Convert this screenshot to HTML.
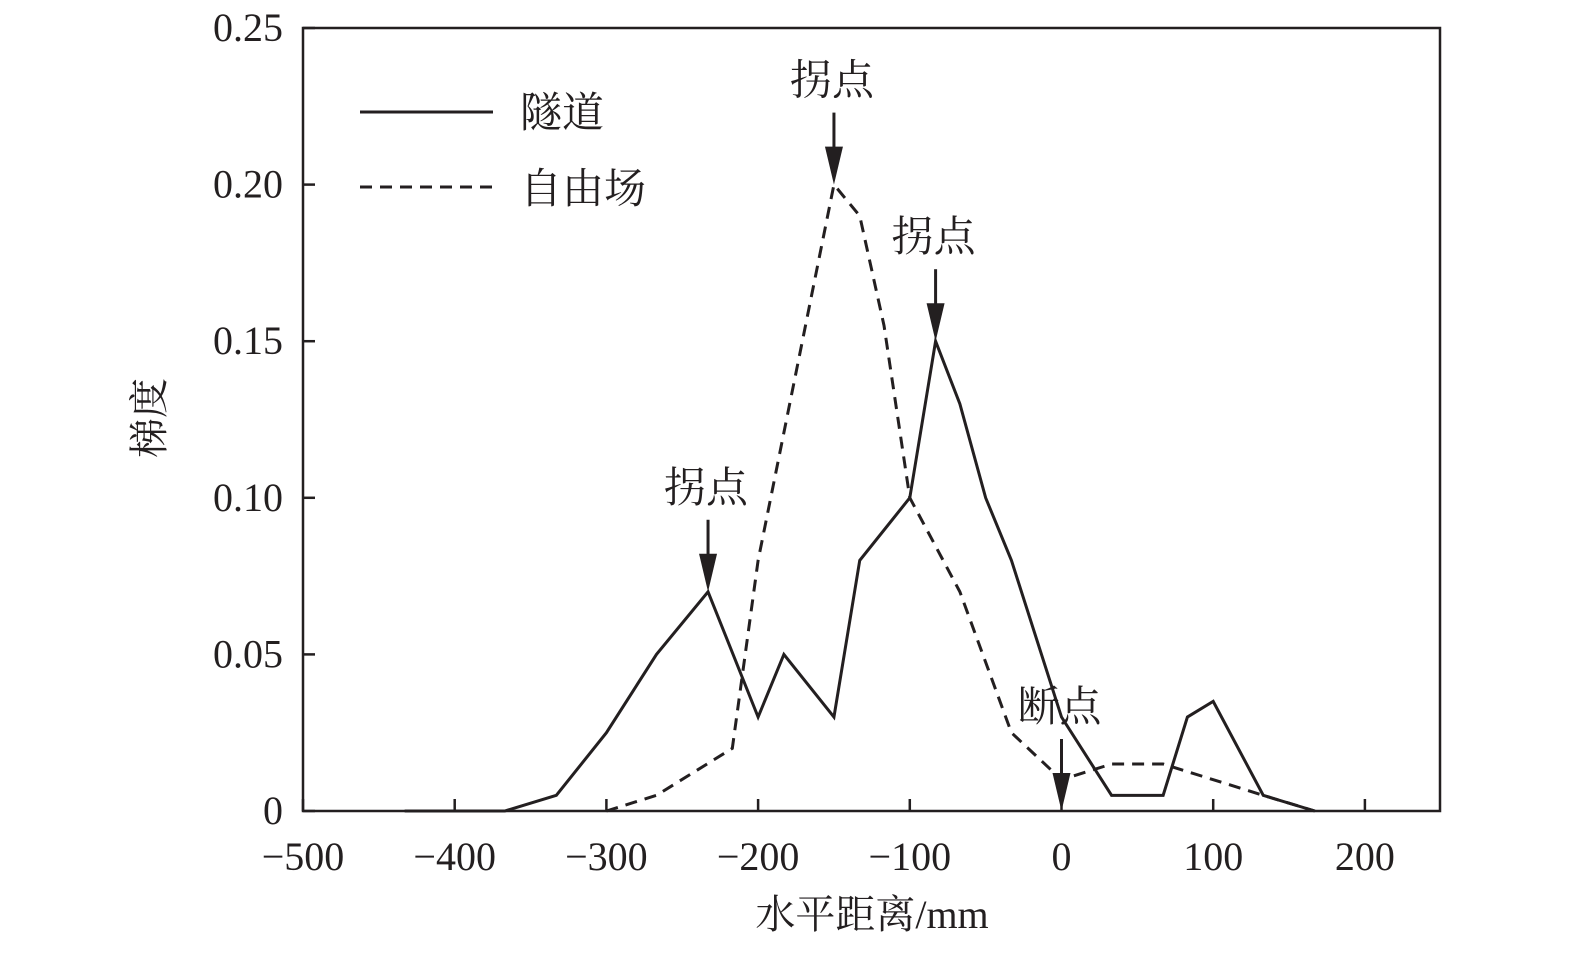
<!DOCTYPE html>
<html><head><meta charset="utf-8"><style>
body{margin:0;background:#fff}
svg text{font-family:"Liberation Serif","Noto Serif CJK SC",serif;fill:#231f20}
</style></head><body>
<svg id="chart" width="1575" height="950" xmlns="http://www.w3.org/2000/svg">
<g id="axes"></g><g id="series"></g><g id="notes"></g>
</svg>
<script>
const xTicks=[-500,-400,-300,-200,-100,0,100,200];
const yTicks=[0,0.05,0.10,0.15,0.20,0.25];
const yTickLabels=["0","0.05","0.10","0.15","0.20","0.25"];
const tunnelX=[-433,-367,-333,-300,-267,-233,-200,-183,-150,-133,-100,-83,-67,-50,-33,0,33,67,83,100,133,167];
const tunnelY=[0,0,0.005,0.025,0.05,0.07,0.03,0.05,0.03,0.08,0.1,0.15,0.13,0.1,0.08,0.03,0.005,0.005,0.03,0.035,0.005,0];
const freeX=[-300,-267,-217,-200,-150,-133,-117,-100,-67,-33,0,33,67,100,133,167];
const freeY=[0,0.005,0.02,0.08,0.2,0.19,0.155,0.1,0.07,0.025,0.01,0.015,0.015,0.01,0.005,0];
const notes=[{x:-150,y:0.2,t:"拐点"},{x:-83,y:0.15,t:"拐点"},{x:-233,y:0.07,t:"拐点"},{x:0,y:0,t:"断点"}];
const L=303,R=1440,T=28,B=811;
const sx=v=>303+(v+500)*151.7/100;
const sy=v=>B-(v/0.25)*(B-T);
const NS="http://www.w3.org/2000/svg";
function mk(tag,attrs,parent,txt){const e=document.createElementNS(NS,tag);for(const k in attrs)e.setAttribute(k,attrs[k]);if(txt!==undefined)e.textContent=txt;document.getElementById(parent).appendChild(e);return e;}
let e=mk("rect",{x:L,y:T,width:R-L,height:B-T,fill:"none",stroke:"#231f20","stroke-width":2.5},"axes");


xTicks.forEach(v=>{
 let t=mk("line",{x1:sx(v),x2:sx(v),y1:B,y2:B-12,stroke:"#231f20","stroke-width":2.5},"axes");
 
 
 let l=mk("text",{x:sx(v),y:870,"text-anchor":"middle","font-size":40},"axes",(v<0?"\u2212":"")+Math.abs(v));
 
 
});
yTicks.forEach((v,i)=>{
 let t=mk("line",{x1:L,x2:L+12,y1:sy(v),y2:sy(v),stroke:"#231f20","stroke-width":2.5},"axes");
 
 
 let l=mk("text",{x:283,y:sy(v)+13,"text-anchor":"end","font-size":40},"axes",yTickLabels[i]);
 
 
});
e=mk("text",{x:872,y:928,"text-anchor":"middle","font-size":40},"axes","水平距离/mm");


e=mk("text",{x:0,y:0,"text-anchor":"middle","font-size":40,transform:"translate(163,418) rotate(-90)"},"axes","梯度");


function pts(xs,ys){return xs.map((x,i)=>sx(x)+","+sy(ys[i])).join(" ");}
e=mk("polyline",{points:pts(tunnelX,tunnelY),fill:"none",stroke:"#231f20","stroke-width":3},"series");


e=mk("polyline",{points:pts(freeX,freeY),fill:"none",stroke:"#231f20","stroke-width":3,"stroke-dasharray":"12,8"},"series");


e=mk("line",{x1:360,x2:493,y1:112,y2:112,stroke:"#231f20","stroke-width":3},"notes");


e=mk("text",{x:520,y:127,"font-size":42},"notes","隧道");


e=mk("line",{x1:360,x2:493,y1:187,y2:187,stroke:"#231f20","stroke-width":3,"stroke-dasharray":"12,8"},"notes");


e=mk("text",{x:520,y:203,"font-size":42},"notes","自由场");


notes.forEach(n=>{
 const px=sx(n.x),py=sy(n.y);
 let l=mk("line",{x1:px,x2:px,y1:py-72,y2:py-30,stroke:"#231f20","stroke-width":3},"notes");
 
 
 let h=mk("polygon",{points:`${px-9},${py-38} ${px+9},${py-38} ${px},${py}`,fill:"#231f20"},"notes");
 
 
 let t=mk("text",{x:px-2,y:py-90,"text-anchor":"middle","font-size":42},"notes",n.t);
 
 
});
</script>
</body></html>
